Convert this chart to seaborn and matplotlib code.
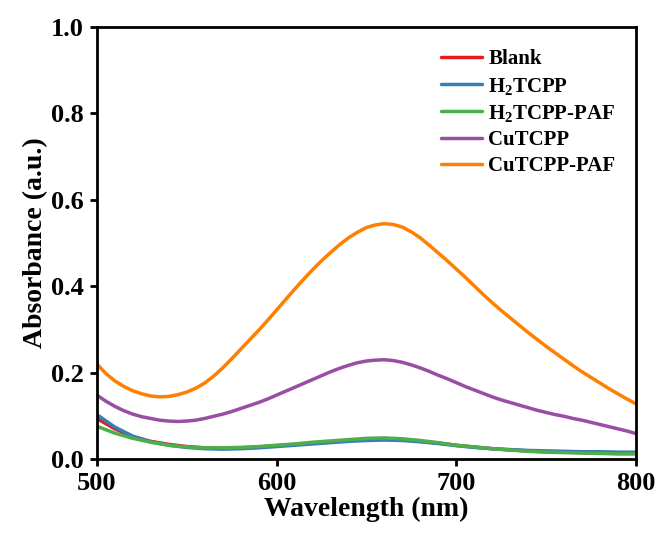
import matplotlib
matplotlib.use("Agg")
import matplotlib.pyplot as plt
import seaborn as sns
import pandas as pd

# Wavelength grids (nm): 10 nm for the weak absorbers, 5 nm for the Cu samples
wl_coarse = list(range(500, 801, 10))
wl_fine = list(range(500, 801, 5))

blank = [0.094, 0.070, 0.052, 0.041, 0.034, 0.029, 0.026, 0.025, 0.026, 0.028,
         0.031, 0.034, 0.037, 0.040, 0.043, 0.045, 0.046, 0.045, 0.041, 0.037,
         0.032, 0.028, 0.024, 0.021, 0.019, 0.017, 0.016, 0.015, 0.014, 0.013,
         0.013]
h2tcpp = [0.103, 0.074, 0.053, 0.040, 0.032, 0.027, 0.024, 0.023, 0.024, 0.026,
          0.029, 0.032, 0.035, 0.038, 0.041, 0.043, 0.044, 0.043, 0.040, 0.036,
          0.031, 0.027, 0.024, 0.022, 0.020, 0.019, 0.018, 0.017, 0.017, 0.016,
          0.016]
h2tcpp_paf = [0.076, 0.060, 0.048, 0.039, 0.032, 0.028, 0.026, 0.026, 0.027, 0.029,
              0.032, 0.035, 0.039, 0.042, 0.045, 0.048, 0.049, 0.047, 0.043, 0.038,
              0.032, 0.028, 0.024, 0.021, 0.018, 0.016, 0.015, 0.014, 0.013, 0.012,
              0.012]
cutcpp = [0.148, 0.134, 0.122, 0.112, 0.104, 0.098, 0.094, 0.090, 0.088, 0.087,
          0.088, 0.090, 0.094, 0.099, 0.104, 0.110, 0.117, 0.124, 0.131, 0.139,
          0.148, 0.157, 0.166, 0.175, 0.184, 0.193, 0.202, 0.210, 0.217, 0.223,
          0.227, 0.229, 0.230, 0.228, 0.224, 0.218, 0.211, 0.203, 0.194, 0.186,
          0.177, 0.168, 0.160, 0.152, 0.144, 0.137, 0.131, 0.125, 0.119, 0.113,
          0.108, 0.103, 0.099, 0.094, 0.090, 0.085, 0.080, 0.075, 0.070, 0.065,
          0.059]
cutcpp_paf = [0.220, 0.198, 0.181, 0.168, 0.158, 0.151, 0.146, 0.144, 0.145, 0.149,
              0.155, 0.164, 0.176, 0.192, 0.211, 0.232, 0.254, 0.276, 0.298, 0.321,
              0.345, 0.369, 0.393, 0.416, 0.438, 0.459, 0.478, 0.496, 0.512, 0.525,
              0.536, 0.542, 0.545, 0.543, 0.537, 0.526, 0.512, 0.495, 0.477, 0.459,
              0.440, 0.421, 0.401, 0.381, 0.362, 0.344, 0.327, 0.310, 0.293, 0.277,
              0.261, 0.246, 0.231, 0.216, 0.202, 0.189, 0.176, 0.163, 0.151, 0.139,
              0.128]

labels = ["Blank", r"H$_2$TCPP", r"H$_2$TCPP-PAF", "CuTCPP", "CuTCPP-PAF"]
series = [blank, h2tcpp, h2tcpp_paf, cutcpp, cutcpp_paf]
grids = [wl_coarse, wl_coarse, wl_coarse, wl_fine, wl_fine]

df = pd.concat(
    [pd.DataFrame({"Wavelength": wl, "Absorbance": s, "Sample": lab})
     for lab, s, wl in zip(labels, series, grids)],
    ignore_index=True,
)

sns.set_theme(style="ticks")
plt.rcParams["font.family"] = ["Liberation Serif", "DejaVu Serif"]
plt.rcParams["font.weight"] = "bold"
plt.rcParams["text.color"] = "black"
plt.rcParams["axes.labelcolor"] = "black"
plt.rcParams["xtick.color"] = "black"
plt.rcParams["ytick.color"] = "black"
plt.rcParams["mathtext.fontset"] = "custom"
plt.rcParams["mathtext.rm"] = "Liberation Serif:bold"
plt.rcParams["mathtext.it"] = "Liberation Serif:bold"
plt.rcParams["mathtext.bf"] = "Liberation Serif:bold"
plt.rcParams["mathtext.default"] = "rm"

palette = ["#e41a1c", "#377eb8", "#4daf4a", "#984ea3", "#ff7f00"]

fig = plt.figure(figsize=(6.59, 5.42), dpi=100)
ax = fig.add_axes([0.147, 0.153, 0.818, 0.797])

sns.lineplot(data=df, x="Wavelength", y="Absorbance", hue="Sample",
             palette=palette, hue_order=labels, linewidth=2.5, ax=ax,
             legend=True)

ax.set_xlim(500, 800)
ax.set_ylim(0, 1.0)
ax.set_xticks([500, 600, 700, 800])
ax.set_yticks([0.0, 0.2, 0.4, 0.6, 0.8, 1.0])
ax.set_yticklabels(["0.0", "0.2", "0.4", "0.6", "0.8", "1.0"])
ax.set_xlabel("Wavelength (nm)", fontsize=20, fontweight="bold", labelpad=1)
ax.set_ylabel("Absorbance (a.u.)", fontsize=20, fontweight="bold", labelpad=2)
ax.tick_params(axis="both", direction="out", length=5, width=2,
               labelsize=19, pad=4.5, colors="black")
for lab in ax.get_xticklabels() + ax.get_yticklabels():
    lab.set_fontweight("bold")
for sp in ax.spines.values():
    sp.set_visible(True)
    sp.set_linewidth(2)
    sp.set_color("black")

leg = ax.legend(loc="upper right", bbox_to_anchor=(0.978, 0.968), frameon=False,
                fontsize=15, handlelength=2.0, labelspacing=0.3,
                handletextpad=0.3, borderaxespad=0)
for t in leg.get_texts():
    t.set_fontweight("bold")
    t.set_color("black")

fig.savefig("out.png", dpi=100)
